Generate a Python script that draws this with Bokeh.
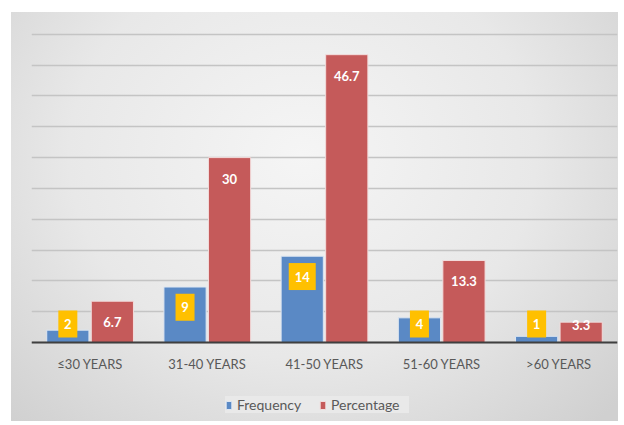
from bokeh.plotting import figure
from bokeh.models import ColumnDataSource, FactorRange, FixedTicker, Legend, LegendItem
from bokeh.transform import dodge
from bokeh.core.properties import value
from bokeh.embed import file_html
from bokeh.resources import INLINE

categories = ["≤30 YEARS", "31-40 YEARS", "41-50 YEARS", "51-60 YEARS", ">60 YEARS"]
frequency = [2, 9, 14, 4, 1]
percentage = [6.7, 30, 46.7, 13.3, 3.3]
y_ticks = [0, 5, 10, 15, 20, 25, 30, 35, 40, 45, 50]

freq_lbl = [str(v) for v in frequency]
src = ColumnDataSource(dict(
    cat=categories,
    freq=frequency,
    pct=percentage,
    freq_lbl=freq_lbl,
    pct_lbl=[f"{v:g}" for v in percentage],
    freq_y=[max(v - 3.3, 3.0) for v in frequency],
    pct_y=[max(v - 3.4, 2.9) for v in percentage],
    box_w=[11 + 8 * len(s) for s in freq_lbl],
))

FONT = "Lato"
Y_TOP = 50.3
Y_BOTTOM = -12.82   # room under the baseline for category labels and legend

p = figure(frame_width=586, frame_height=389, x_range=FactorRange(*categories),
           y_range=(Y_BOTTOM, Y_TOP),
           output_backend="svg", toolbar_location=None,
           min_border_left=20, min_border_right=1, min_border_top=20, min_border_bottom=0)
p.margin = (12, 0, 0, 11)
p.styles = {"background": "radial-gradient(ellipse 70% 90% at 48% 35%, #f5f5f5 0%, #e8e8e8 55%, #d0d0d0 100%)"}
p.border_fill_alpha = 0
p.background_fill_alpha = 0
p.outline_line_color = None

r1 = p.vbar(x=dodge("cat", -0.19, range=p.x_range), top="freq", bottom=0, width=0.36, source=src,
            fill_color="#5A89C5", line_color="#DDE6F2", line_width=1)
r2 = p.vbar(x=dodge("cat", 0.19, range=p.x_range), top="pct", bottom=0, width=0.36, source=src,
            fill_color="#C55A5A", line_color="#F2DCDC", line_width=1)

p.rect(x=dodge("cat", -0.19, range=p.x_range), y="freq_y", width="box_w", height=27,
       width_units="screen", height_units="screen", source=src,
       fill_color="#FFC000", line_color=None)
p.text(x=dodge("cat", -0.19, range=p.x_range), y="freq_y", text="freq_lbl", source=src,
       text_align="center", text_baseline="middle", text_color="white",
       text_font=value(FONT), text_font_size="13px", text_font_style="bold")
p.text(x=dodge("cat", 0.19, range=p.x_range), y="pct_y", text="pct_lbl", source=src,
       text_align="center", text_baseline="middle", text_color="white",
       text_font=value(FONT), text_font_size="13px", text_font_style="bold")

p.yaxis.visible = False
p.yaxis.ticker = FixedTicker(ticks=y_ticks)
p.ygrid.ticker = FixedTicker(ticks=y_ticks)
p.ygrid.grid_line_color = "#C4C4C4"
p.ygrid.grid_line_width = 1.5
p.xgrid.grid_line_color = None

p.xaxis.fixed_location = 0
p.xaxis.axis_line_color = "#3F3F3F"
p.xaxis.axis_line_width = 2
p.xaxis.major_tick_line_color = None
p.xaxis.minor_tick_line_color = None
p.xaxis.major_label_text_font = FONT
p.xaxis.major_label_text_font_size = "13px"
p.xaxis.major_label_text_color = "#595959"
p.xaxis.major_label_standoff = 8

legend = Legend(items=[LegendItem(label="Frequency", renderers=[r1]),
                       LegendItem(label="Percentage", renderers=[r2])],
                orientation="horizontal", location=(194, 8),
                glyph_width=7, glyph_height=10, label_standoff=5, spacing=4, label_width=78,
                label_text_font=FONT, label_text_font_size="14px", label_text_color="#595959",
                background_fill_color="#E9E9E9", background_fill_alpha=1,
                border_line_color=None, padding=9, margin=0)
p.add_layout(legend, "center")

open("out.html", "w").write(file_html(p, INLINE))
